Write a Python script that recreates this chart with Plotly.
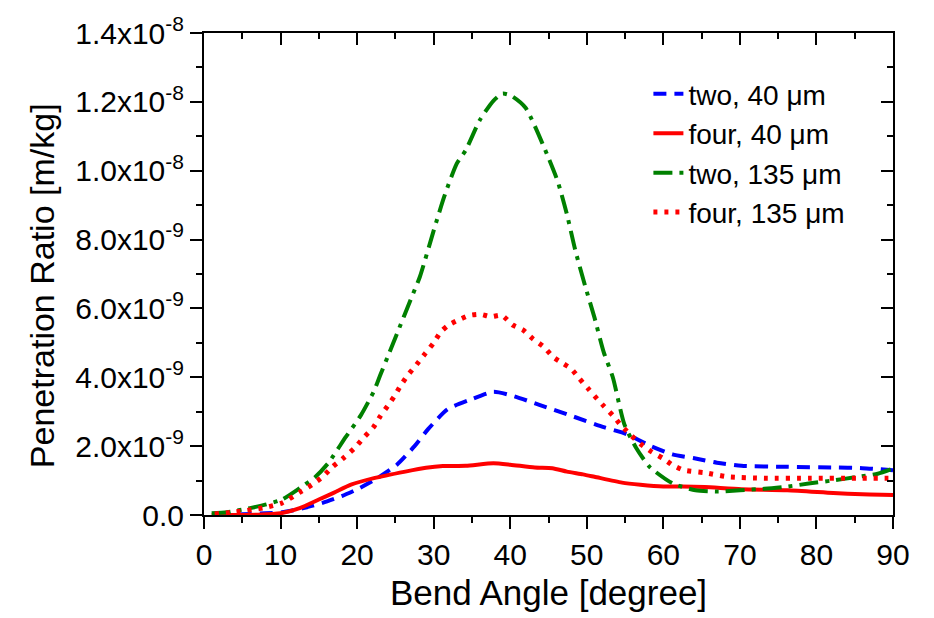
import plotly.graph_objects as go

# Penetration ratio [m/kg] versus bend angle [degree]; y values in units of 1e-9
angle_two_40 = [1.8, 5, 8, 10.2, 13, 15.5, 18, 20.3, 22.5, 25.2, 27.5, 29.3, 31.8, 34.8,
                37.8, 40.2, 43.8, 48, 52.2, 55.2, 58.2, 61.2, 64.2, 67, 70.2, 76.2, 82.2, 86, 90]
ratio_two_40 = [0.0, 0.02, 0.05, 0.08, 0.2, 0.35, 0.55, 0.78, 1.05, 1.46, 2.0, 2.5, 3.07, 3.35,
                3.58, 3.47, 3.2, 2.88, 2.55, 2.35, 2.02, 1.76, 1.64, 1.52, 1.43, 1.4, 1.38, 1.36, 1.3]

angle_four_40 = [1, 4, 7, 10, 12.5, 15, 17, 19.2, 22.2, 26.3, 29, 31.2, 34.2, 37.8, 40, 43.2,
                 45.5, 47.4, 49.5, 51, 54.6, 57, 60, 62.5, 65.4, 70.2, 76.2, 82.2, 86, 90]
ratio_four_40 = [0.0, 0.0, 0.01, 0.05, 0.2, 0.45, 0.65, 0.88, 1.07, 1.26, 1.37, 1.42, 1.43, 1.5,
                 1.46, 1.38, 1.36, 1.26, 1.18, 1.11, 0.94, 0.88, 0.83, 0.83, 0.81, 0.75, 0.72,
                 0.64, 0.6, 0.58]

angle_two_135 = [1, 3, 6, 8, 10.2, 12.5, 14.5, 16.2, 18.5, 20.5, 22.2, 23, 24, 25.2, 27, 28.2,
                 30, 31.4, 33, 34.2, 36, 37.8, 39, 40.2, 42, 44.4, 46.2, 47.4, 48.5, 49.8, 51,
                 52.2, 53.4, 54.9, 56.4, 58.2, 61.2, 64.2, 67.2, 70, 73.2, 76, 79.2, 82, 85.2,
                 88, 90]
ratio_two_135 = [0.05, 0.08, 0.2, 0.3, 0.45, 0.78, 1.1, 1.5, 2.26, 2.9, 3.6, 4.05, 4.6, 5.26,
                 6.26, 6.92, 8.26, 9.26, 10.2, 10.6, 11.46, 12.03, 12.24, 12.17, 11.83, 10.69,
                 9.69, 8.74, 7.69, 6.64, 5.74, 4.74, 4.0, 2.64, 1.97, 1.4, 0.92, 0.72, 0.68,
                 0.72, 0.76, 0.82, 0.92, 1.0, 1.1, 1.2, 1.35]

angle_four_135 = [1.4, 4.2, 7.8, 10.2, 12.5, 14.1, 15.5, 16.8, 18.3, 19.7, 20.9, 22.1, 23, 24,
                  24.9, 25.8, 26.7, 27.8, 28.9, 30, 30.9, 31.9, 33.3, 34.7, 36.1, 37.5, 38.9,
                  40.3, 41.7, 43, 44.4, 45.6, 46.9, 48, 49, 50.1, 51, 52.2, 53.4, 54.5, 55.8,
                  57, 58.5, 60, 61.2, 62.7, 65.4, 68.4, 73.2, 79.2, 85.2, 89.4]
ratio_four_135 = [0.03, 0.09, 0.21, 0.35, 0.66, 0.88, 1.11, 1.4, 1.67, 1.95, 2.26, 2.54, 2.86,
                  3.17, 3.46, 3.8, 4.08, 4.38, 4.69, 5.0, 5.31, 5.51, 5.67, 5.8, 5.83, 5.76,
                  5.8, 5.52, 5.37, 5.11, 4.88, 4.59, 4.4, 4.24, 3.97, 3.69, 3.46, 3.17, 2.89,
                  2.6, 2.31, 2.07, 1.83, 1.64, 1.45, 1.3, 1.23, 1.11, 1.07, 1.07, 1.07, 1.07]

y_tick_vals = [0, 2e-9, 4e-9, 6e-9, 8e-9, 1e-8, 1.2e-8, 1.4e-8]
y_tick_text = ["0.0", "2.0x10<sup>-9</sup>", "4.0x10<sup>-9</sup>", "6.0x10<sup>-9</sup>",
               "8.0x10<sup>-9</sup>", "1.0x10<sup>-8</sup>", "1.2x10<sup>-8</sup>",
               "1.4x10<sup>-8</sup>"]

FONT = "Liberation Sans, Arial, sans-serif"
SCALE = 1e-9

series = [
    ("two, 40 μm", angle_two_40, ratio_two_40, "#0000FF", "13px,8px", 4),
    ("four, 40 μm", angle_four_40, ratio_four_40, "#FF0000", "solid", 4),
    ("two, 135 μm", angle_two_135, ratio_two_135, "#008000", "19px,7px,4px,7px", 4),
    ("four, 135 μm", angle_four_135, ratio_four_135, "#FF0000", "4px,7px", 5),
]

fig = go.Figure()
for name, xs, ys, color, dash, width in series:
    fig.add_trace(go.Scatter(
        x=xs, y=[v * SCALE for v in ys], name=name, mode="lines",
        line=dict(color=color, dash=dash, width=width, shape="spline", smoothing=0.6),
    ))

# Helper trace so the mirrored top/right axes (inward ticks) get drawn
fig.add_trace(go.Scatter(x=[None], y=[None], xaxis="x2", yaxis="y2",
                         showlegend=False, hoverinfo="skip"))

axis_common = dict(showline=True, linecolor="black", linewidth=2, showgrid=False,
                   zeroline=False, tickcolor="black", tickwidth=2, ticklen=12)

fig.update_layout(
    width=934, height=618,
    margin=dict(l=204, r=41, t=28, b=99),
    plot_bgcolor="white", paper_bgcolor="white",
    font=dict(family=FONT, color="black", size=30),
    xaxis=dict(range=[0, 90], tickvals=list(range(0, 91, 10)), ticks="outside",
               minor=dict(dtick=5, ticks="outside", ticklen=6, tickwidth=2, tickcolor="black"),
               tickfont=dict(size=30),
               title=dict(text="Bend Angle [degree]", font=dict(size=35), standoff=10),
               **axis_common),
    yaxis=dict(range=[0, 1.4e-8], tickvals=y_tick_vals, ticktext=y_tick_text, ticks="outside",
               minor=dict(dtick=1e-9, ticks="outside", ticklen=6, tickwidth=2, tickcolor="black"),
               tickfont=dict(size=30),
               **axis_common),
    xaxis2=dict(range=[0, 90], overlaying="x", side="top", anchor="y2", ticks="inside",
                tickvals=list(range(0, 91, 10)), showticklabels=False,
                minor=dict(dtick=5, ticks="inside", ticklen=6, tickwidth=2, tickcolor="black"),
                **axis_common),
    yaxis2=dict(range=[0, 1.4e-8], overlaying="y", side="right", anchor="x2", ticks="inside",
                tickvals=y_tick_vals, showticklabels=False,
                minor=dict(dtick=1e-9, ticks="inside", ticklen=6, tickwidth=2, tickcolor="black"),
                **axis_common),
    legend=dict(x=0.645, y=0.925, xanchor="left", yanchor="top", bgcolor="rgba(0,0,0,0)",
                font=dict(size=28, family=FONT), tracegroupgap=0),
    showlegend=True,
    annotations=[dict(text="Penetration Ratio [m/kg]", textangle=-90, xref="paper",
                      yref="paper", x=-0.235, y=0.475, xanchor="center", yanchor="middle",
                      showarrow=False, font=dict(size=34, family=FONT))],
)

fig.write_html("out.html")
